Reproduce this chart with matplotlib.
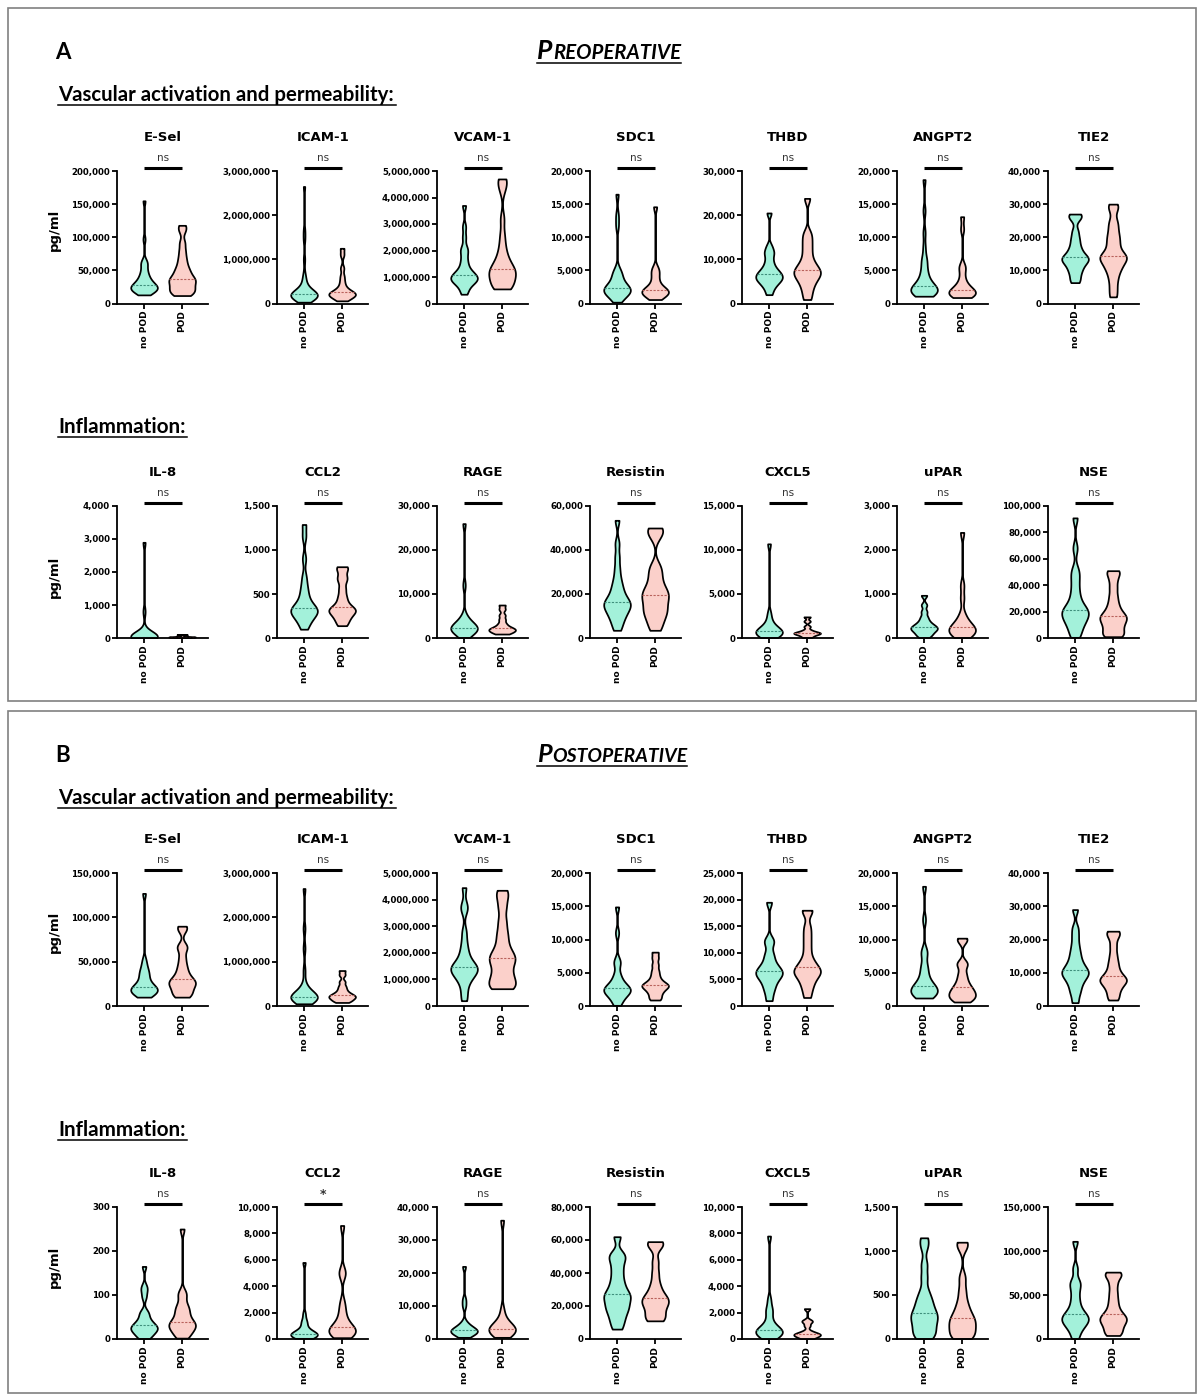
import numpy as np
import matplotlib
matplotlib.use('Agg')
import matplotlib.pyplot as plt
from matplotlib import cbook, mlab
from matplotlib.ticker import FuncFormatter, MultipleLocator
from matplotlib.lines import Line2D
from matplotlib.patches import Rectangle

plt.rcParams['font.family'] = 'DejaVu Sans'
plt.rcParams['font.weight'] = 'bold'

# ---- markers / axes settings ----
vasc_markers = ['E-Sel', 'ICAM-1', 'VCAM-1', 'SDC1', 'THBD', 'ANGPT2', 'TIE2']
infl_markers = ['IL-8', 'CCL2', 'RAGE', 'Resistin', 'CXCL5', 'uPAR', 'NSE']

a_vasc_ymax = [200000, 3000000, 5000000, 20000, 30000, 20000, 40000]
a_vasc_step = [50000, 1000000, 1000000, 5000, 10000, 5000, 10000]
a_infl_ymax = [4000, 1500, 30000, 60000, 15000, 3000, 100000]
a_infl_step = [1000, 500, 10000, 20000, 5000, 1000, 20000]
b_vasc_ymax = [150000, 3000000, 5000000, 20000, 25000, 20000, 40000]
b_vasc_step = [50000, 1000000, 1000000, 5000, 5000, 5000, 10000]
b_infl_ymax = [300, 10000, 40000, 80000, 10000, 1500, 150000]
b_infl_step = [100, 2000, 10000, 20000, 2000, 500, 50000]

a_vasc_sig = ['ns'] * 7
a_infl_sig = ['ns'] * 7
b_vasc_sig = ['ns'] * 7
b_infl_sig = ['ns', '*', 'ns', 'ns', 'ns', 'ns', 'ns']

# ---- values (pg/ml) ----
# A, preoperative, vascular
a_esel_no = [13000, 15000, 17000, 18000, 19000, 20000, 21000, 22000, 23000, 24000, 25000, 26000, 27000, 27000,
             28000, 30000, 32000, 34000, 36000, 38000, 41000, 44000, 48000, 52000, 58000, 62000, 64000, 97000, 155000]
a_esel_pod = [12000, 14000, 17000, 20000, 22000, 25000, 28000, 32000, 35000, 36000, 37000, 42000, 46000, 50000,
              55000, 62000, 70000, 80000, 92000, 110000, 118000]
a_icam_no = [30000, 80000, 110000, 120000, 130000, 140000, 150000, 160000, 170000, 175000, 180000, 190000, 200000,
             200000, 205000, 210000, 220000, 230000, 250000, 270000, 300000, 330000, 380000, 450000, 550000, 650000,
             1000000, 1450000, 1650000, 2650000]
a_icam_pod = [60000, 100000, 130000, 160000, 180000, 200000, 210000, 220000, 240000, 260000, 290000, 330000,
              400000, 500000, 620000, 800000, 1100000, 1250000]
a_vcam_no = [350000, 500000, 650000, 750000, 800000, 850000, 900000, 920000, 950000, 1000000, 1050000, 1080000,
             1150000, 1200000, 1300000, 1450000, 1600000, 1800000, 2000000, 2100000, 2500000, 2900000, 3700000]
a_vcam_pod = [550000, 580000, 650000, 750000, 850000, 950000, 1050000, 1150000, 1200000, 1250000, 1300000,
              1400000, 1550000, 1700000, 1900000, 2200000, 2600000, 3200000, 4300000, 4600000, 4700000]
a_sdc1_no = [200, 700, 1100, 1400, 1600, 1800, 1900, 2000, 2000, 2100, 2200, 2400, 2600, 2900, 3300, 3800, 4300,
             4700, 5000, 11700, 13300, 16500]
a_sdc1_pod = [600, 900, 1200, 1400, 1600, 1700, 1800, 1900, 2000, 2200, 2500, 3000, 3600, 4300, 4900, 5400, 14600]
a_thbd_no = [2000, 3200, 4000, 4500, 5000, 5300, 5600, 5900, 6200, 6500, 6800, 7200, 7600, 8200, 9000, 10000,
             11200, 11800, 13000, 20500]
a_thbd_pod = [900, 2500, 3800, 4800, 5600, 6200, 6700, 7200, 7600, 8200, 9000, 10000, 11500, 13000, 14500, 16000,
              23800]
a_angpt2_no = [1100, 1300, 1500, 1600, 1700, 1800, 1900, 2000, 2100, 2200, 2300, 2500, 2700, 3000, 3300, 3700,
               4200, 4800, 5400, 6500, 6700, 8500, 10700, 14000, 18700]
a_angpt2_pod = [900, 1100, 1300, 1400, 1500, 1600, 1800, 1900, 2100, 2400, 2800, 3300, 4200, 5300, 5700, 11200,
                13100]
a_tie2_no = [6300, 7500, 9000, 10000, 11000, 11800, 12500, 13000, 13500, 13800, 14200, 15000, 16000, 17000, 18500,
             20000, 22000, 25500, 26500, 27000]
a_tie2_pod = [2000, 4500, 7000, 9000, 10500, 11500, 12500, 13500, 14000, 14200, 15000, 16500, 18000, 19500, 21000,
              23000, 25000, 28500, 30000]

# A, preoperative, inflammation
a_il8_no = [5, 10, 15, 20, 25, 30, 35, 40, 50, 60, 80, 120, 200, 800, 2900]
a_il8_pod = [5, 15, 25, 30, 35, 45, 60, 90, 110]
a_ccl2_no = [100, 160, 200, 230, 260, 280, 300, 310, 320, 330, 350, 380, 420, 470, 530, 600, 700, 900, 1150, 1290]
a_ccl2_pod = [140, 190, 230, 260, 290, 310, 320, 340, 370, 420, 480, 560, 650, 700, 780, 810]
a_rage_no = [100, 800, 1300, 1600, 1800, 2000, 2100, 2200, 2300, 2500, 2700, 3000, 3500, 4200, 5000, 12000, 26000]
a_rage_pod = [900, 1200, 1500, 1700, 1900, 2100, 2300, 2700, 3300, 4200, 5200, 6500, 7500]
a_resistin_no = [3500, 6000, 8000, 9500, 11000, 12000, 13000, 14000, 15000, 15500, 16000, 17000, 18000, 19500,
                 21000, 23000, 25000, 28000, 32000, 37000, 43000, 53500]
a_resistin_pod = [3500, 6500, 9000, 11000, 12500, 14000, 16000, 18000, 19000, 20500, 22000, 24000, 27000, 30000,
                  33000, 46000, 49000, 50000]
a_cxcl5_no = [50, 200, 350, 450, 550, 650, 700, 750, 850, 1000, 1200, 1500, 2000, 2800, 10700]
a_cxcl5_pod = [50, 250, 400, 500, 550, 600, 700, 900, 1300, 1900, 2400]
a_upar_no = [10, 60, 100, 140, 170, 200, 220, 240, 270, 300, 340, 400, 480, 600, 750, 970]
a_upar_pod = [10, 50, 90, 130, 160, 190, 210, 240, 280, 340, 420, 550, 900, 1200, 2400]
a_nse_no = [500, 4000, 8000, 11000, 13000, 15000, 17000, 19000, 20000, 21000, 23000, 26000, 30000, 35000, 41000,
            47000, 52000, 68000, 91000]
a_nse_pod = [1000, 2000, 4000, 6500, 9000, 11000, 13000, 15000, 16000, 17500, 20000, 23000, 27000, 32000, 38000,
             44000, 49000, 51000]

# B, postoperative, vascular
b_esel_no = [10000, 12000, 14000, 15000, 16000, 17000, 18000, 19000, 20000, 21000, 22000, 24000, 27000, 30000,
             34000, 37000, 40000, 45000, 52000, 127000]
b_esel_pod = [10000, 12000, 15000, 18000, 21000, 24000, 26000, 27000, 29000, 32000, 36000, 41000, 47000, 55000,
              65000, 68000, 86000, 90000]
b_icam_no = [50000, 110000, 140000, 160000, 170000, 180000, 190000, 195000, 200000, 205000, 210000, 220000, 240000,
             270000, 320000, 400000, 480000, 800000, 1300000, 1750000, 2650000]
b_icam_pod = [80000, 110000, 140000, 170000, 190000, 210000, 230000, 250000, 280000, 320000, 380000, 450000,
              550000, 700000, 800000]
b_vcam_no = [200000, 500000, 800000, 1000000, 1100000, 1200000, 1300000, 1350000, 1400000, 1450000, 1500000,
             1600000, 1700000, 1900000, 2100000, 2400000, 2800000, 3600000, 3800000, 4450000]
b_vcam_pod = [650000, 700000, 800000, 950000, 1100000, 1250000, 1450000, 1650000, 1750000, 1850000, 2000000,
              2200000, 2500000, 2800000, 3200000, 3700000, 4100000, 4350000]
b_sdc1_no = [100, 700, 1200, 1600, 1900, 2100, 2300, 2400, 2500, 2700, 2900, 3200, 3600, 4200, 4900, 6400, 6800,
             11000, 14900]
b_sdc1_pod = [900, 1300, 1800, 2200, 2500, 2800, 3000, 3100, 3300, 3600, 4000, 4600, 5300, 6200, 7200, 8100]
b_thbd_no = [1000, 2500, 3500, 4300, 5000, 5500, 5900, 6200, 6500, 6900, 7400, 8000, 9000, 10000, 11800, 12500,
             19500]
b_thbd_pod = [1600, 3000, 4000, 4800, 5500, 6000, 6400, 6600, 7000, 7500, 8200, 9000, 10500, 12000, 13500, 15000,
              17800, 18000]
b_angpt2_no = [1200, 1400, 1600, 1800, 2000, 2200, 2400, 2600, 2700, 2900, 3200, 3600, 4100, 4800, 5600, 6300,
               8000, 8200, 13000, 18000]
b_angpt2_pod = [600, 900, 1200, 1500, 1700, 2000, 2300, 2600, 3000, 3500, 4200, 5000, 6200, 6500, 9800, 10200]
b_tie2_no = [1000, 3500, 5000, 6500, 7500, 8500, 9200, 9800, 10200, 10800, 11500, 12500, 13500, 15000, 16500,
             18500, 21000, 23500, 29000]
b_tie2_pod = [1800, 3000, 4500, 5500, 6500, 7200, 7800, 8000, 8500, 9500, 10500, 12000, 13500, 15500, 18000, 20500,
              22000, 22500]

# B, postoperative, inflammation
b_il8_no = [1, 5, 10, 14, 18, 21, 23, 25, 27, 30, 33, 37, 42, 48, 58, 62, 95, 110, 120, 165]
b_il8_pod = [2, 8, 14, 20, 25, 29, 32, 34, 37, 42, 50, 58, 65, 72, 80, 100, 105, 250]
b_ccl2_no = [50, 120, 180, 230, 270, 300, 330, 350, 380, 420, 480, 560, 700, 900, 1250, 1350, 1900, 5800]
b_ccl2_pod = [100, 250, 400, 500, 600, 650, 700, 850, 1000, 1300, 1700, 2200, 2800, 4900, 5100, 8600]
b_rage_no = [500, 1200, 1600, 1900, 2100, 2300, 2400, 2600, 2800, 3100, 3500, 4200, 5000, 10000, 12000, 22000]
b_rage_pod = [500, 1300, 1800, 2200, 2500, 2700, 2900, 3200, 3600, 4200, 5000, 6000, 8800, 36000]
b_resistin_no = [6000, 10000, 13000, 16000, 18000, 20000, 22000, 24000, 26000, 27000, 29000, 32000, 35000, 39000,
                 43000, 47000, 50000, 52000, 62000]
b_resistin_pod = [11000, 12000, 14000, 16500, 19000, 21000, 22500, 23500, 25000, 27000, 30000, 34000, 40000, 47000,
                  56000, 58000, 59000]
b_cxcl5_no = [20, 150, 280, 380, 450, 520, 580, 620, 700, 800, 950, 1200, 1600, 2100, 2300, 3000, 7800]
b_cxcl5_pod = [20, 120, 220, 290, 340, 380, 450, 600, 1000, 1300, 1400, 2300]
b_upar_no = [5, 30, 70, 110, 150, 190, 230, 260, 280, 320, 370, 420, 470, 550, 700, 850, 1050, 1150]
b_upar_pod = [5, 25, 60, 100, 140, 180, 210, 240, 290, 350, 430, 550, 700, 1050, 1100]
b_nse_no = [500, 8000, 13000, 16000, 19000, 21000, 23000, 25000, 27000, 30000, 34000, 40000, 47000, 55000, 62000,
            66000, 80000, 111000]
b_nse_pod = [4000, 7000, 11000, 15000, 18000, 21000, 23000, 25000, 28000, 32000, 38000, 45000, 53000, 62000, 70000,
             74000, 76000]

rows = [
    (vasc_markers, a_vasc_ymax, a_vasc_step, a_vasc_sig,
     [a_esel_no, a_icam_no, a_vcam_no, a_sdc1_no, a_thbd_no, a_angpt2_no, a_tie2_no],
     [a_esel_pod, a_icam_pod, a_vcam_pod, a_sdc1_pod, a_thbd_pod, a_angpt2_pod, a_tie2_pod]),
    (infl_markers, a_infl_ymax, a_infl_step, a_infl_sig,
     [a_il8_no, a_ccl2_no, a_rage_no, a_resistin_no, a_cxcl5_no, a_upar_no, a_nse_no],
     [a_il8_pod, a_ccl2_pod, a_rage_pod, a_resistin_pod, a_cxcl5_pod, a_upar_pod, a_nse_pod]),
    (vasc_markers, b_vasc_ymax, b_vasc_step, b_vasc_sig,
     [b_esel_no, b_icam_no, b_vcam_no, b_sdc1_no, b_thbd_no, b_angpt2_no, b_tie2_no],
     [b_esel_pod, b_icam_pod, b_vcam_pod, b_sdc1_pod, b_thbd_pod, b_angpt2_pod, b_tie2_pod]),
    (infl_markers, b_infl_ymax, b_infl_step, b_infl_sig,
     [b_il8_no, b_ccl2_no, b_rage_no, b_resistin_no, b_cxcl5_no, b_upar_no, b_nse_no],
     [b_il8_pod, b_ccl2_pod, b_rage_pod, b_resistin_pod, b_cxcl5_pod, b_upar_pod, b_nse_pod]),
]

# ---- layout (pixels, measured from top-left) ----
W, H = 1204, 1396
col_left = [117, 277, 437, 590, 742, 897, 1048]
ax_w = 91
row_top = [171, 506, 873, 1207]
row_zero = [303.5, 638, 1006, 1339]
ylab_y = [230, 577, 932, 1267]

fill_no, fill_pod = '#a3f1da', '#fbd0ca'
med_no, med_pod = '#3f8f7c', '#b8625c'
BW = 0.2
VW = 0.7

fig = plt.figure(figsize=(W / 100, H / 100), dpi=100)
renderer = fig.canvas.get_renderer()


def fx(x):
    return x / W


def fy(y):
    return 1 - y / H


def kde(X, coords):
    return mlab.GaussianKDE(X, BW).evaluate(coords)


for r, (names, ymaxs, steps, sigs, nos, pods) in enumerate(rows):
    for c in range(7):
        ax = fig.add_axes([fx(col_left[c]), fy(row_zero[r]), ax_w / W, (row_zero[r] - row_top[r]) / H])
        stats = cbook.violin_stats([np.array(nos[c], float), np.array(pods[c], float)], kde, points=300)
        parts = ax.violin(stats, positions=[0, 1], widths=VW, showextrema=False)
        for body, fc in zip(parts['bodies'], [fill_no, fill_pod]):
            body.set_facecolor(fc)
            body.set_edgecolor('black')
            body.set_linewidth(1.25)
            body.set_alpha(1)
        for i, st in enumerate(stats):
            hw = VW / 2 * np.interp(st['median'], st['coords'], st['vals']) / st['vals'].max()
            ax.plot([i - hw, i + hw], [st['median']] * 2, color=[med_no, med_pod][i],
                    lw=0.8, ls=(0, (2, 1.3)))

        ax.set_xlim(-0.71, 1.68)
        ax.set_ylim(0, ymaxs[c])
        ax.yaxis.set_major_locator(MultipleLocator(steps[c]))
        ax.yaxis.set_major_formatter(FuncFormatter(lambda v, p: f'{int(round(v)):,}'))
        ax.set_xticks([0, 1])
        ax.set_xticklabels(['no POD', 'POD'], rotation=90, fontsize=6.5)
        for s in ['top', 'right']:
            ax.spines[s].set_visible(False)
        for s in ['left', 'bottom']:
            ax.spines[s].set_linewidth(1.3)
        ax.tick_params(axis='both', width=1.3, length=3.5, pad=1.5)
        ax.tick_params(axis='y', labelsize=6.2)
        ax.set_facecolor('none')

        tr = ax.get_xaxis_transform()
        ax.text(0.5, 1.255, names[c], transform=tr, ha='center', va='center', fontsize=9.5)
        ax.text(0.5, 1.095, sigs[c], transform=tr, ha='center', va='center',
                fontsize=7.5 if sigs[c] == 'ns' else 9, fontweight='normal' if sigs[c] == 'ns' else 'bold',
                color='#333333')
        ax.plot([0, 1], [1.023, 1.023], transform=tr, color='black', lw=2.2, clip_on=False,
                solid_capstyle='butt')

    fig.text(fx(54), fy(ylab_y[r]), 'pg/ml', rotation=90, ha='center', va='center', fontsize=9.5)


# ---- panel headings ----
def underline(x0, x1, y):
    fig.add_artist(Line2D([fx(x0), fx(x1)], [fy(y), fy(y)], transform=fig.transFigure, color='black', lw=1.1))


def heading(x, y, s, target_w, size=14):
    t = fig.text(fx(x), fy(y), s, fontsize=size, fontweight='bold', family='Lato', va='baseline')
    w = t.get_window_extent(renderer).width
    t.set_fontsize(size * target_w / w)
    return t


def smallcaps(x, y, first, rest, target_w, uy):
    t1 = fig.text(fx(x), fy(y), first, fontsize=15, fontweight='bold', style='italic', family='Lato',
                  va='baseline')
    w1 = t1.get_window_extent(renderer).width
    t2 = fig.text(fx(x + w1 + 0.5), fy(y), rest, fontsize=11.5, fontweight='bold', style='italic',
                  family='Lato', va='baseline')
    w2 = t2.get_window_extent(renderer).width
    k = target_w / (w1 + w2 + 0.5)
    t1.set_fontsize(15 * k)
    t2.set_fontsize(11.5 * k)
    w1 = t1.get_window_extent(renderer).width
    t2.set_position((fx(x + w1 + 0.5), fy(y)))
    underline(x, x + target_w, uy)


for top, letter, title in [(0, 'A', ('P', 'REOPERATIVE', 144)), (703, 'B', ('P', 'OSTOPERATIVE', 150))]:
    fig.text(fx(55), fy(top + 59), letter, fontsize=16, fontweight='bold', family='Lato', va='baseline')
    smallcaps(537, top + 59, title[0], title[1], title[2], top + 63)
    heading(58, top + 101, 'Vascular activation and permeability:', 337)
    underline(58, 396, top + 105)
    heading(58, top + 433, 'Inflammation:', 129)
    underline(58, 187, top + 437)

fig.add_artist(Rectangle((fx(8), fy(701)), (1196 - 8) / W, (701 - 8) / H, transform=fig.transFigure,
                         fill=False, ec='#808080', lw=1.2))
fig.add_artist(Rectangle((fx(8), fy(1393)), (1196 - 8) / W, (1393 - 711) / H, transform=fig.transFigure,
                         fill=False, ec='#808080', lw=1.2))

fig.savefig('out.png', dpi=100)
